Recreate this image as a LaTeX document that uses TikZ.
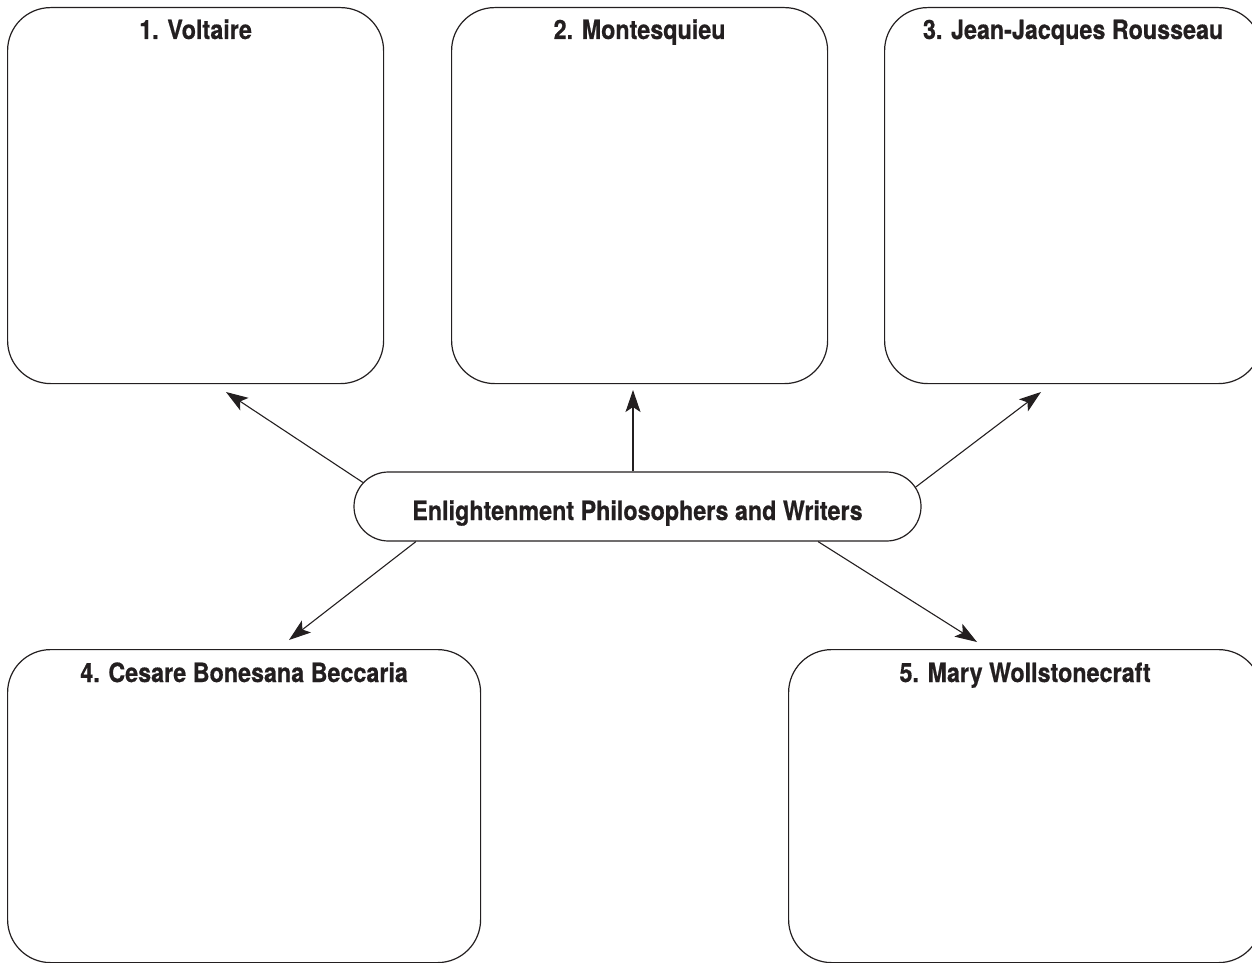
\documentclass[tikz,border=0pt]{standalone}
\usepackage{fontspec}
\setmainfont[FakeStretch=0.88,BoldFeatures={FakeBold=0.6}]{TeX Gyre Heros}
\usetikzlibrary{arrows.meta,positioning,shapes.misc}
\definecolor{ink}{RGB}{35,31,32}
\tikzset{
    card/.style={rectangle,draw=ink,line width=1.2pt,rounded corners=43pt,anchor=north west,inner sep=0pt},
    cardtitle/.style={anchor=base,text=ink,font=\fontsize{26.5}{30}\selectfont\bfseries},
    hubbox/.style={rounded rectangle,draw=ink,line width=1.2pt,minimum width=567pt,minimum height=69pt,
        inner sep=0pt,text=ink,font=\fontsize{26.5}{30}\selectfont\bfseries,text height=27pt,text depth=0pt},
    link/.style={draw=ink,line width=1.1pt,-{Stealth[length=22pt,width=15pt,inset=5pt]}}
}

\begin{document}
\begin{tikzpicture}[x=1pt,y=-1pt]
                \useasboundingbox (0,0) rectangle (1252,963);

                \node[card,minimum width=376pt,minimum height=376pt] (voltaire) at (7,7) {};
                \node[card,minimum width=376pt,minimum height=376pt] (montesquieu) at (451,7) {};
                \node[card,minimum width=377pt,minimum height=376pt] (rousseau) at (884,7) {};
                \node[card,minimum width=473pt,minimum height=313pt] (beccaria) at (7,649) {};
                \node[card,minimum width=473pt,minimum height=313pt] (wollstonecraft) at (788,649) {};

                \node[cardtitle] (voltaireT) at ([yshift=-32pt]voltaire.north) {1. Voltaire};
                \node[cardtitle] (montesquieuT) at ([yshift=-32pt]montesquieu.north) {2. Montesquieu};
                \node[cardtitle] (rousseauT) at ([yshift=-32pt]rousseau.north) {3. Jean-Jacques Rousseau};
                \node[cardtitle] (beccariaT) at ([yshift=-33pt]beccaria.north) {4. Cesare Bonesana Beccaria};
                \node[cardtitle] (wollstonecraftT) at ([yshift=-33pt]wollstonecraft.north) {5. Mary Wollstonecraft};

                \node[hubbox] (hub) at (637.5,506.5) {Enlightenment Philosophers and Writers};

                \coordinate (tipA) at (226,392);
                \coordinate (tipB) at (633,390);
                \coordinate (tipC) at (1041,392);
                \coordinate (tipD) at (289,640);
                \coordinate (tipE) at (977,642);

                \draw [link](hub.175.6) -- (tipA);
                \draw [link](hub.north -| tipB) -- (tipB);
                \draw [link](hub.4.9) -- (tipC);
                \draw [link](hub.189.4) -- (tipD);
                \draw [link](hub.349.8) -- (tipE);
            \end{tikzpicture}
\end{document}
